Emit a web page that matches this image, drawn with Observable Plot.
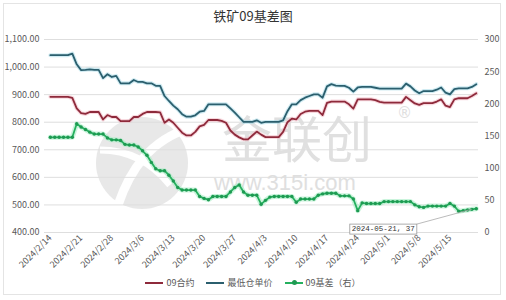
<!DOCTYPE html>
<html><head><meta charset="utf-8">
<script src="https://cdn.jsdelivr.net/npm/d3@7"></script>
<script src="https://cdn.jsdelivr.net/npm/@observablehq/plot@0.6"></script>
<style>
body{margin:0;background:#fff;font-family:"Noto Sans CJK SC","Noto Sans",sans-serif;}
#wrap{position:relative;width:506px;height:300px;overflow:hidden;background:#fff}
#frame{position:absolute;left:3px;top:3px;width:498px;height:292px;border:1px solid #e4e4e4;box-sizing:border-box}
#title{position:absolute;left:0;top:6px;width:506px;text-align:center;font-size:13px;color:#333}
#wm{position:absolute;left:0;top:0;width:506px;height:300px}
#chart{position:absolute;left:0;top:0}
#legend{position:absolute;left:0;top:276px;width:506px;display:flex;justify-content:center;gap:12px;font-size:9px;color:#595959;align-items:center}
.item{display:flex;align-items:center;gap:3px}
.sw{display:inline-block;width:18px;height:2px}
</style></head><body>
<div id="wrap">
  <div id="wm"></div>
  <div id="frame"></div>
  <div id="title"></div>
  <div id="chart"></div>
  <div id="legend"></div>
</div>
<script>
const titleText = "铁矿09基差图";
const startDate = "2024-02-14";
const endDate = "2024-05-21";
const seriesNames = ["09合约", "最低仓单价", "09基差（右）"];
const seriesColors = ["#8e2a3b", "#2b5f6e", "#25b05e"];
// 09 contract (left axis), daily
const contract09 = [892,892,892,892,892,888,850,833,830,837,837,837,810,826,819,819,804,804,804,819,
  819,830,837,837,837,836,798,810,798,780,762,752,752,765,785,790,808,808,808,805,
  798,770,755,745,738,738,752,766,755,746,746,746,746,765,800,813,810,830,838,841,
  841,841,826,870,875,875,875,875,865,849,883,883,883,883,880,874,871,871,871,871,
  871,892,880,868,863,869,869,869,875,883,860,855,883,887,887,887,895,905];
// lowest warehouse-receipt price (left axis), daily
const warehouseMin = [1043,1043,1043,1043,1043,1049,1010,989,990,992,990,990,960,974,964,968,941,941,941,953,
  946,946,941,941,932,932,895,877,860,847,829,820,820,825,838,841,865,865,865,865,
  865,850,835,818,801,801,801,807,798,801,801,801,801,807,840,865,865,880,889,895,
  901,901,889,930,938,933,932,932,925,911,926,928,928,928,925,922,922,922,922,922,
  922,940,930,915,905,913,913,913,918,926,907,901,920,923,923,923,928,938];
// 09 basis (right axis), daily
const basis09 = [148,148,148,148,148,148,169,164,160,156,153,153,153,147,144,144,143,137,136,136,
  133,127,120,109,99,96,96,89,80,70,66,66,66,66,56,53,51,56,56,56,
  56,63,70,74,63,58,58,58,44,50,55,56,56,56,56,56,47,52,52,52,
  52,58,60,61,61,61,57,57,57,52,34,46,45,45,45,45,48,48,48,48,
  48,48,48,43,40,39,41,41,41,41,41,45,41,33,34,35,36,37];
const leftTicks = [400,500,600,700,800,900,1000,1100];
const rightTicks = [0,50,100,150,200,250,300];
const xTickDates = ["2024-02-14","2024-02-21","2024-02-28","2024-03-06","2024-03-13","2024-03-20","2024-03-27",
  "2024-04-03","2024-04-10","2024-04-17","2024-04-24","2024-05-01","2024-05-08","2024-05-15"];

const leftDomain = [400, 1100], rightDomain = [0, 300];
const toLeft = r => leftDomain[0] + (r - rightDomain[0]) * (leftDomain[1]-leftDomain[0])/(rightDomain[1]-rightDomain[0]);
const fromLeft = v => rightDomain[0] + (v - leftDomain[0]) * (rightDomain[1]-rightDomain[0])/(leftDomain[1]-leftDomain[0]);

const days = d3.utcDay.range(new Date(startDate), d3.utcDay.offset(new Date(endDate), 1));
const rows = days.map((date, i) => ({date, c: contract09[i], w: warehouseMin[i], b: basis09[i], bl: toLeft(basis09[i])}));
const fmtDate = d => `${d.getUTCFullYear()}/${d.getUTCMonth()+1}/${d.getUTCDate()}`;
const fmtIso = d3.utcFormat("%Y-%m-%d");

document.getElementById("title").textContent = titleText;

// watermark
document.getElementById("wm").innerHTML = `
<svg width="506" height="300">
  <g opacity="0.55">
    <circle cx="142" cy="163" r="46" fill="#d6d6d6"/>
    <path d="M118,205 C130,170 150,140 190,128" stroke="#fff" stroke-width="9" fill="none"/>
    <path d="M100,150 C125,150 150,160 170,185" stroke="#fff" stroke-width="7" fill="none"/>
  </g>
  <text x="222" y="158" font-size="50" fill="#d9d9d9" font-family="Noto Sans CJK SC" opacity="0.8">金联创</text>
  <text x="397" y="118" font-size="15" fill="#dcdcdc" font-family="DejaVu Sans" opacity="0.9">®</text>
  <text x="214" y="190" font-size="22" fill="#dcdcdc" font-family="Liberation Sans" opacity="0.9">www.315i.com</text>
</svg>`;

const chart = Plot.plot({
  width: 506, height: 300,
  marginLeft: 44, marginRight: 28, marginTop: 39, marginBottom: 68,
  style: {fontFamily: '"Noto Sans CJK SC","Noto Sans",sans-serif', fontSize: "9px", color: "#595959", background: "transparent", overflow: "visible"},
  x: {type: "utc", domain: [d3.utcHour.offset(new Date(startDate), -32), d3.utcHour.offset(new Date(endDate), 12)]},
  y: {domain: leftDomain},
  marks: [
    Plot.ruleY(leftTicks, {stroke: "#dedede", strokeWidth: 1}),
    Plot.axisY({ticks: leftTicks, anchor: "left", tickSize: 0, tickPadding: 5, tickFormat: d3.format(",.2f"), label: null}),
    Plot.axisY({ticks: rightTicks.map(toLeft), anchor: "right", tickSize: 0, tickPadding: 6, tickFormat: v => Math.round(fromLeft(v)), label: null}),
    Plot.axisX({ticks: xTickDates.map(d => new Date(d)), tickFormat: fmtDate, tickRotate: -45, tickSize: 0, tickPadding: 4, label: null}),
    Plot.line(rows, {x: "date", y: "w", stroke: "#9fd8e6", strokeWidth: 4, strokeOpacity: 0.5}),
    Plot.line(rows, {x: "date", y: "c", stroke: "#f2b3bf", strokeWidth: 4, strokeOpacity: 0.5}),
    Plot.line(rows, {x: "date", y: "bl", stroke: "#a6ecc4", strokeWidth: 5, strokeOpacity: 0.6}),
    Plot.line(rows, {x: "date", y: "w", stroke: seriesColors[1], strokeWidth: 1.8}),
    Plot.line(rows, {x: "date", y: "c", stroke: seriesColors[0], strokeWidth: 1.8}),
    Plot.line(rows, {x: "date", y: "bl", stroke: seriesColors[2], strokeWidth: 1.8}),
    Plot.dot(rows, {x: "date", y: "bl", r: 1.7, fill: "#1e9a52"}),
    Plot.text(rows.slice(-1), {x: "date", y: "bl", text: d => `${fmtIso(d.date)}, ${d.b}`, dx: -93, dy: 20,
      fontFamily: '"Liberation Mono","DejaVu Sans Mono",monospace', fontSize: 7.5, fill: "#333", className: "anno"})
  ]
});
document.getElementById("chart").appendChild(chart);

// annotation box + leader line
const last = rows[rows.length-1];
const t = chart.querySelector(".anno text");
if (t) {
  const ns = "http://www.w3.org/2000/svg";
  const bb = t.getBBox();
  const rect = document.createElementNS(ns, "rect");
  rect.setAttribute("x", bb.x - 2); rect.setAttribute("y", bb.y - 1);
  rect.setAttribute("width", bb.width + 4); rect.setAttribute("height", bb.height + 2);
  rect.setAttribute("fill", "#fff"); rect.setAttribute("stroke", "#999"); rect.setAttribute("stroke-width", "0.8");
  const tr = t.getAttribute("transform");
  if (tr) rect.setAttribute("transform", tr);
  t.parentNode.insertBefore(rect, t);
  // leader line in root coordinates
  const M = t.getCTM();
  const svgM = chart.getCTM ? chart.getCTM() : null;
  const lx = bb.x + bb.width + 2, ly = bb.y - 1;
  let x1 = M.a*lx + M.c*ly + M.e, y1 = M.b*lx + M.d*ly + M.f;
  if (svgM) { x1 -= svgM.e; y1 -= svgM.f; }
  const px = chart.scale("x").apply(last.date), py = chart.scale("y").apply(last.bl);
  const ln = document.createElementNS(ns, "line");
  ln.setAttribute("x1", x1); ln.setAttribute("y1", y1);
  ln.setAttribute("x2", px - 4); ln.setAttribute("y2", py + 1);
  ln.setAttribute("stroke", "#aaa"); ln.setAttribute("stroke-width", "0.8");
  const anno = chart.querySelector(".anno");
  anno.parentNode.insertBefore(ln, anno);
}

// legend
const leg = document.getElementById("legend");
seriesNames.forEach((n, i) => {
  const it = document.createElement("div"); it.className = "item";
  const sw = document.createElement("span"); sw.className = "sw"; sw.style.background = seriesColors[i];
  if (i === 2) { sw.style.position = "relative"; sw.innerHTML = '<span style="position:absolute;left:7px;top:-1.5px;width:5px;height:5px;border-radius:50%;background:#1e9a52"></span>'; }
  const tx = document.createElement("span"); tx.textContent = n;
  it.appendChild(sw); it.appendChild(tx); leg.appendChild(it);
});
</script>
</body></html>
